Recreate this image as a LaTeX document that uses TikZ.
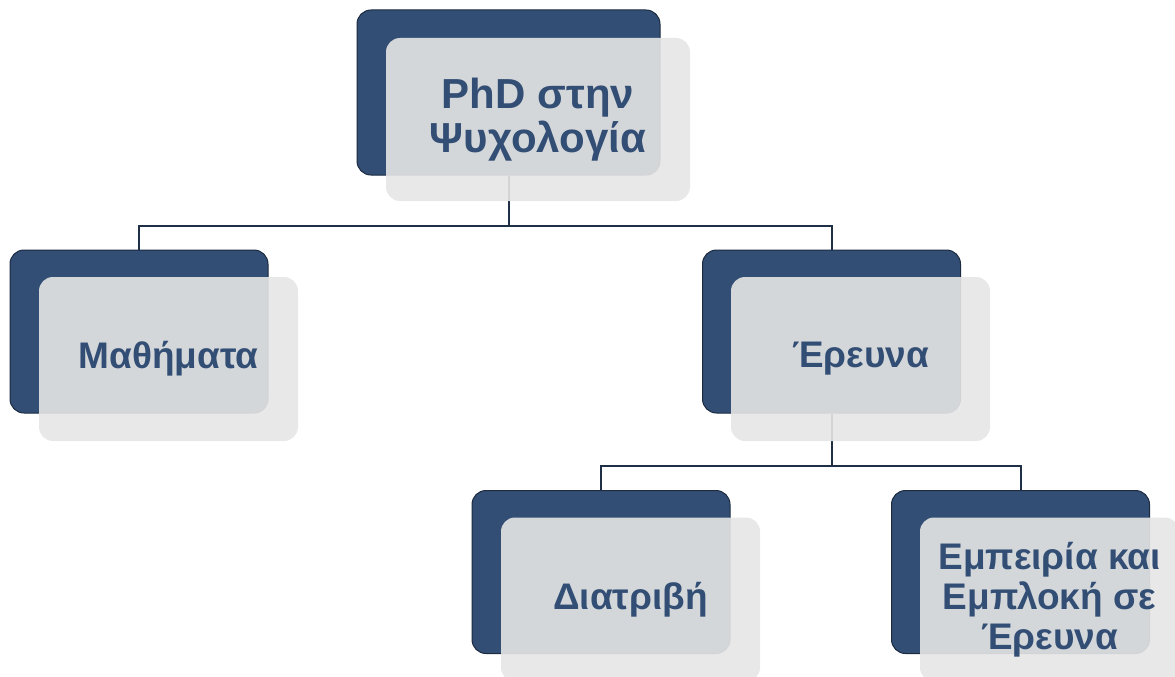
\documentclass[tikz,border=0pt]{standalone}
\usepackage{fontspec}
\setmainfont{Liberation Sans}
\definecolor{boxblue}{HTML}{334E74}
\definecolor{boxgray}{HTML}{E6E6E6}
\tikzset{
  backbox/.style={rectangle,rounded corners=14pt,draw=boxblue!55!black,line width=1pt,fill=boxblue,minimum width=258pt,minimum height=163pt,inner sep=0pt},
  frontbox/.style={rectangle,rounded corners=14pt,fill=boxgray,fill opacity=.9,text opacity=1,minimum width=259pt,minimum height=164pt,inner sep=0pt,align=center,text=boxblue,font=\bfseries\fontsize{37}{42}\selectfont},
  link/.style={draw=boxblue!60!black,line width=2pt}
}
\begin{document}
\begin{tikzpicture}[x=1pt,y=-1pt]
  \useasboundingbox (0,0) rectangle (1175,677);
  % dark boxes
  \node(phd)[backbox,minimum width=303pt,minimum height=165pt] at (508.5,92.5){};
  \node(math)[backbox] at (139,331.5){};
  \node(erevna)[backbox] at (831.5,331.5){};
  \node(diatrivi)[backbox] at (601,572){};
  \node(empeiria)[backbox] at (1020.5,572){};
  % connectors
  \draw[link] (phd.south) -- ++(0,50) -| (math.north);
  \draw[link] (phd.south) -- ++(0,50) -| (erevna.north);
  \draw[link] (erevna.south) -- ++(0,52) -| (diatrivi.north);
  \draw[link] (erevna.south) -- ++(0,52) -| (empeiria.north);
  % light boxes with text
  \node(phdtxt)[frontbox,minimum width=304pt,minimum height=163pt,font=\bfseries\fontsize{42}{44}\selectfont] at (538,119.5){PhD στην\\Ψυχολογία};
  \node(mathtxt)[frontbox] at (168.5,359){Μαθήματα};
  \node(erevnatxt)[frontbox] at (860.5,359){Έρευνα};
  \node(diatrivitxt)[frontbox] at (630.5,599.5){Διατριβή};
  \node(empeiriatxt)[frontbox,font=\bfseries\fontsize{37}{40}\selectfont] at (1049.5,599.5){Εμπειρία και\\Εμπλοκή σε\\Έρευνα};
\end{tikzpicture}
\end{document}
